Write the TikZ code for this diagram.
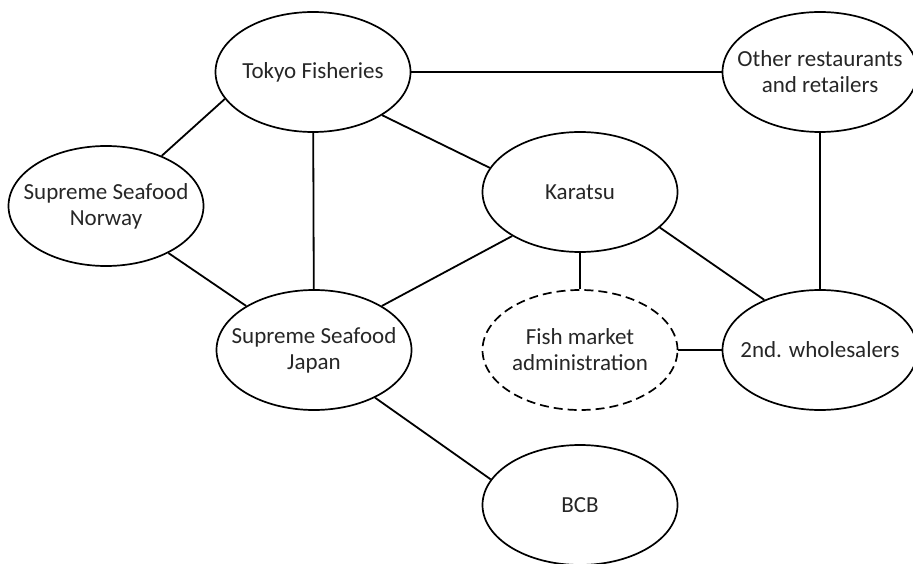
\documentclass[tikz,border=0pt]{standalone}
\usepackage{fontspec}
\setmainfont{Carlito}
\usetikzlibrary{shapes.geometric}
\begin{document}
\begin{tikzpicture}[x=1pt,y=-1pt,
  ell/.style={draw, ellipse, line width=1.7pt, minimum width=195pt, minimum height=120pt, inner sep=0pt},
  dell/.style={ell, dash pattern=on 9pt off 5pt},
  lbl/.style={align=center, font=\fontsize{23}{26}\selectfont, text=black!85, inner sep=0pt},
  conn/.style={line width=1.8pt}]
\useasboundingbox (0,0) rectangle (913,564);
\node[ell, label={[lbl]center:Tokyo Fisheries}] (tokyo) at (313,72) {};
\node[ell, label={[lbl]center:Other restaurants\\and retailers}] (other) at (820,72) {};
\node[ell, label={[lbl]center:Supreme Seafood\\Norway}] (norway) at (106,206) {};
\node[ell, label={[lbl]center:Karatsu}] (karatsu) at (580,192) {};
\node[ell, label={[lbl]center:Supreme Seafood\\Japan}] (japan) at (314,350) {};
\node[dell, label={[lbl]center:Fish market\\administration}] (fish) at (580,350) {};
\node[ell, label={[lbl]center:2nd. wholesalers}] (whole) at (820,350) {};
\node[ell, label={[lbl]center:BCB}] (bcb) at (580,505) {};
\draw[conn] (tokyo) -- (other);
\draw[conn] (tokyo.197) -- (norway.42);
\draw[conn] (tokyo) -- (japan);
\draw[conn] (tokyo.328) -- (karatsu.165);
\draw[conn] (karatsu.213) -- (japan.33);
\draw[conn] (karatsu) -- (fish);
\draw[conn] (karatsu.336) -- (whole.138);
\draw[conn] (other) -- (whole);
\draw[conn] (norway.323) -- (japan.147);
\draw[conn] (fish) -- (whole);
\draw[conn] (japan.322) -- (bcb.164);
\end{tikzpicture}
\end{document}
